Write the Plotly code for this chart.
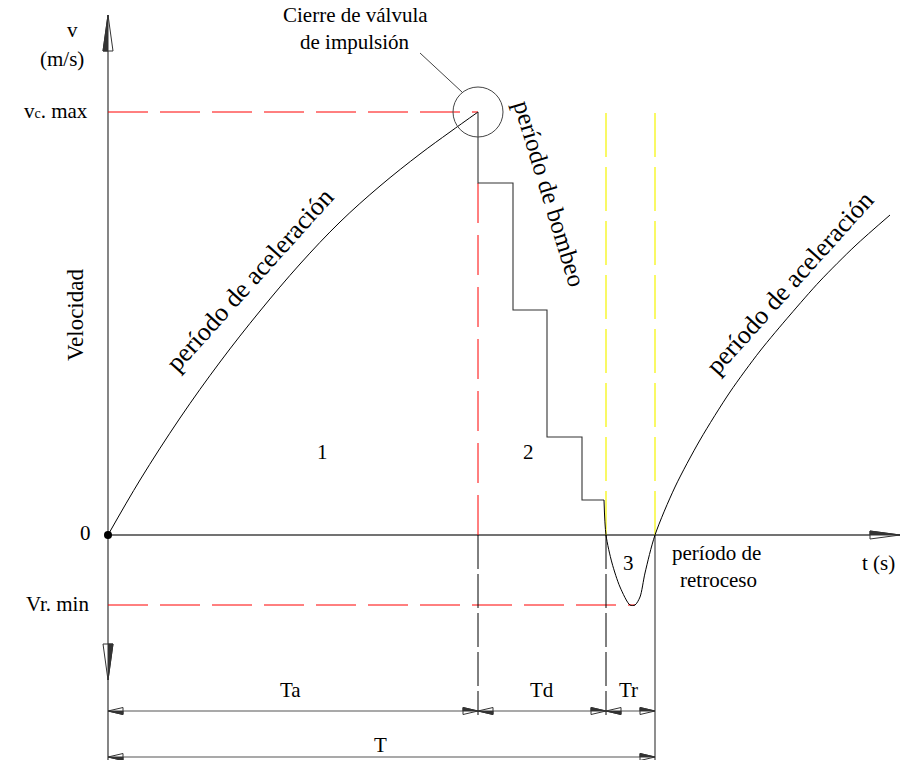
import plotly.graph_objects as go

# ---- values (t in s, v in m/s) ----
# acceleration period 1 (from rest up to valve closure)
t_acc1 = [0.00, 0.32, 0.72, 1.12, 1.52, 1.92, 2.32, 2.72, 3.12, 3.42, 3.70]
v_acc1 = [0.00, 0.55, 1.17, 1.73, 2.24, 2.71, 3.13, 3.49, 3.81, 4.03, 4.23]

# pumping period: stepped velocity drop after closure
t_pump = [3.70, 3.70, 4.05, 4.05, 4.39, 4.39, 4.74, 4.74, 4.96]
v_pump = [4.23, 3.52, 3.52, 2.25, 2.25, 0.98, 0.98, 0.35, 0.35]

# recoil period (negative velocity)
t_rec = [4.96, 4.98, 5.04, 5.12, 5.22, 5.27, 5.32, 5.37, 5.47]
v_rec = [0.35, 0.00, -0.28, -0.52, -0.70, -0.70, -0.62, -0.38, 0.00]

# next acceleration period
t_acc2 = [5.47, 5.67, 5.92, 6.22, 6.52, 6.82, 7.12, 7.47, 7.82]
v_acc2 = [0.00, 0.48, 0.95, 1.43, 1.84, 2.20, 2.54, 2.89, 3.20]

v_c_max = 4.23
v_r_min = -0.70
Ta, Td, Tr = 3.70, 1.28, 0.49
T = Ta + Td + Tr

# ---- drawing extents ----
X_RANGE = [-1.08, 7.93]
Y_RANGE = [-2.25, 5.35]
Y_TOP = 5.20
X_END = 7.92
Y_DIM1 = -1.76
Y_DIM2 = -2.22

SERIF = "Liberation Serif, DejaVu Serif, serif"
AXIS_COL = "#444444"

fig = go.Figure()


def line(x, y, color="black", width=1, dash="solid", shape="linear", smoothing=1.0):
    fig.add_trace(go.Scatter(
        x=x, y=y, mode="lines",
        line=dict(color=color, width=width, dash=dash, shape=shape,
                  smoothing=smoothing),
        hoverinfo="skip"))


# axes
line([0, 0], [Y_RANGE[0], Y_TOP], color=AXIS_COL, width=1.3)
line([0, X_END], [0, 0], color=AXIS_COL, width=1.3)

# reference lines
RED_DASH = "40px,12px"
YEL_DASH = "44px,10px"
line([0, Ta], [v_c_max, v_c_max], color="red", dash=RED_DASH)
line([0, t_rec[5]], [v_r_min, v_r_min], color="red", dash=RED_DASH)
line([Ta, Ta], [v_pump[1], 0], color="red", dash=RED_DASH)
line([Ta + Td, Ta + Td], [0, v_c_max], color="#f5f500", width=1.2, dash=YEL_DASH)
line([T, T], [0, v_c_max], color="#f5f500", width=1.2, dash=YEL_DASH)

# extension lines below the time axis
line([Ta, Ta], [0, Y_DIM1 - 0.04], color="black", dash="34px,5px")
line([Ta + Td, Ta + Td], [0, Y_DIM1 - 0.04], color="black", dash="34px,5px")
line([T, T], [0, Y_RANGE[0]], color=AXIS_COL, width=1.2)

# dimension lines
line([0, T], [Y_DIM1, Y_DIM1], color="#555555", width=1.2)
line([0, T], [Y_DIM2, Y_DIM2], color="#555555", width=1.2)

# velocity curves
line(t_acc1, v_acc1, shape="spline", smoothing=1.0)
line(t_pump, v_pump, color="#333333", width=1.1)
line(t_rec + t_acc2[1:], v_rec + v_acc2[1:], shape="spline", smoothing=0.8)

# origin dot
fig.add_trace(go.Scatter(x=[0], y=[0], mode="markers",
                         marker=dict(color="black", size=8), hoverinfo="skip"))

shapes = []


def arrow(tip_x, tip_y, dx, dy, length, half_w):
    """CAD style arrowhead: outline triangle with one half filled."""
    bx, by = tip_x - dx * length, tip_y - dy * length
    px, py = -dy * half_w, dx * half_w
    outline = f"M {tip_x},{tip_y} L {bx + px},{by + py} L {bx - px},{by - py} Z"
    half = f"M {tip_x},{tip_y} L {bx + px},{by + py} L {bx},{by} Z"
    shapes.append(dict(type="path", path=outline, xref="x", yref="y",
                       line=dict(color="#333333", width=1), fillcolor="white"))
    shapes.append(dict(type="path", path=half, xref="x", yref="y",
                       line=dict(color="#333333", width=1), fillcolor="#333333"))


# axis arrows (1 unit = 100 px on both axes)
arrow(0, Y_TOP, 0, 1, 0.36, 0.05)
arrow(0, -1.45, 0, -1, 0.36, 0.05)
arrow(X_END, 0, 1, 0, 0.30, 0.04)

# dimension arrows
DL, DW = 0.15, 0.035
for y_dim, ends in ((Y_DIM1, [0, Ta, Ta + Td, T]), (Y_DIM2, [0, T])):
    for i, xe in enumerate(ends):
        if i > 0:
            arrow(xe, y_dim, 1, 0, DL, DW)
        if i < len(ends) - 1:
            arrow(xe, y_dim, -1, 0, DL, DW)

# closure marker circle and leader
shapes.append(dict(type="circle", xref="x", yref="y",
                   x0=Ta - 0.25, x1=Ta + 0.25, y0=v_c_max - 0.25, y1=v_c_max + 0.25,
                   line=dict(color="#444444", width=1)))
shapes.append(dict(type="line", xref="x", yref="y",
                   x0=3.12, y0=4.82, x1=3.54, y1=4.43,
                   line=dict(color="#444444", width=1)))

annotations = []


def text(x, y, s, size=21, angle=0, xanchor="center"):
    annotations.append(dict(x=x, y=y, xref="x", yref="y", text=s, showarrow=False,
                            textangle=angle, xanchor=xanchor, yanchor="middle",
                            font=dict(family=SERIF, size=size, color="black")))


text(-0.36, 5.05, "v")
text(-0.46, 4.76, "(m/s)")
text(-0.52, v_c_max + 0.01, "v<span style='font-size:14px'>c</span>. max")
text(-0.23, 0.02, "0")
text(-0.51, v_r_min + 0.01, "Vr. min")
text(-0.33, 2.20, "Velocidad", size=23, angle=-90)
text(2.47, 5.20, "Cierre de válvula")
text(2.47, 4.93, "de impulsión")
text(1.41, 2.55, "período de aceleración", size=26, angle=-48)
text(4.42, 3.42, "período de bombeo", size=25, angle=73)
text(6.81, 2.52, "período de aceleración", size=26, angle=-48)
text(2.14, 0.83, "1")
text(4.20, 0.83, "2")
text(5.20, -0.28, "3")
text(6.08, -0.18, "período de")
text(6.10, -0.45, "retroceso")
text(7.70, -0.28, "t (s)")
text(1.82, -1.55, "Ta")
text(4.34, -1.55, "Td")
text(5.20, -1.55, "Tr")
text(2.72, -2.10, "T")

fig.update_layout(
    width=901, height=760,
    margin=dict(l=0, r=0, t=0, b=0),
    paper_bgcolor="white", plot_bgcolor="white",
    showlegend=False,
    xaxis=dict(range=X_RANGE, visible=False, fixedrange=True),
    yaxis=dict(range=Y_RANGE, visible=False, fixedrange=True),
    shapes=shapes, annotations=annotations,
)

fig.write_html("out.html")
